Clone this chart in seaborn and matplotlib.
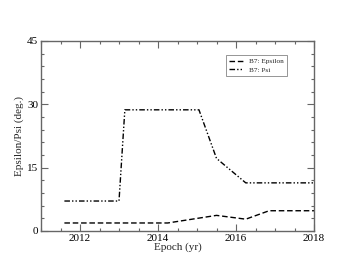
import pandas as pd
import matplotlib
matplotlib.use("Agg")
import matplotlib.pyplot as plt
import seaborn as sns
from matplotlib.ticker import MultipleLocator

# values
eps_epoch = [2011.6, 2014.25, 2015.5, 2016.25, 2016.85, 2018.0]
eps_deg = [1.9, 1.9, 3.7, 2.8, 4.8, 4.8]
psi_epoch = [2011.6, 2013.0, 2013.15, 2015.05, 2015.5, 2016.25, 2018.0]
psi_deg = [7.1, 7.1, 28.7, 28.7, 17.2, 11.4, 11.4]

df = pd.concat([
    pd.DataFrame({"epoch": eps_epoch, "deg": eps_deg, "series": "B7: Epsilon"}),
    pd.DataFrame({"epoch": psi_epoch, "deg": psi_deg, "series": "B7: Psi"}),
])

sns.set_theme(style="ticks")
plt.rcParams["font.family"] = ["Liberation Serif", "DejaVu Serif"]

fig = plt.figure(figsize=(3.53, 2.73), dpi=100)
ax = fig.add_axes([41 / 353, 42 / 273, 273 / 353, 190 / 273])

sns.lineplot(data=df, x="epoch", y="deg", style="series",
             dashes={"B7: Epsilon": (4, 2), "B7: Psi": (4, 1.5, 1, 1.5, 1, 1.5)},
             color="black", linewidth=1.0, ax=ax, sort=False)

ax.set_xlim(2011, 2018)
ax.set_ylim(0, 45)
ax.xaxis.set_major_locator(MultipleLocator(2))
ax.xaxis.set_minor_locator(MultipleLocator(0.5))
ax.yaxis.set_major_locator(MultipleLocator(15))
ax.yaxis.set_minor_locator(MultipleLocator(3))
ax.tick_params(which="both", direction="in", top=True, right=True,
               colors="#666666", labelcolor="black", labelsize=8, pad=2, width=0.8)
ax.tick_params(which="major", length=5)
ax.tick_params(which="minor", length=2.5)
for s in ax.spines.values():
    s.set_color("#666666")
    s.set_linewidth(1.0)

ax.set_xlabel("Epoch (yr)", fontsize=8, labelpad=0)
ax.set_ylabel("Epsilon/Psi (deg.)", fontsize=8, labelpad=2)

leg = ax.legend(loc="upper right", bbox_to_anchor=(0.915, 0.945), fontsize=5.2,
                frameon=True, fancybox=False, edgecolor="#666666",
                handlelength=2.0, borderpad=0.45, labelspacing=0.35)
leg.get_frame().set_linewidth(0.6)

plt.savefig("out.png", dpi=100)
